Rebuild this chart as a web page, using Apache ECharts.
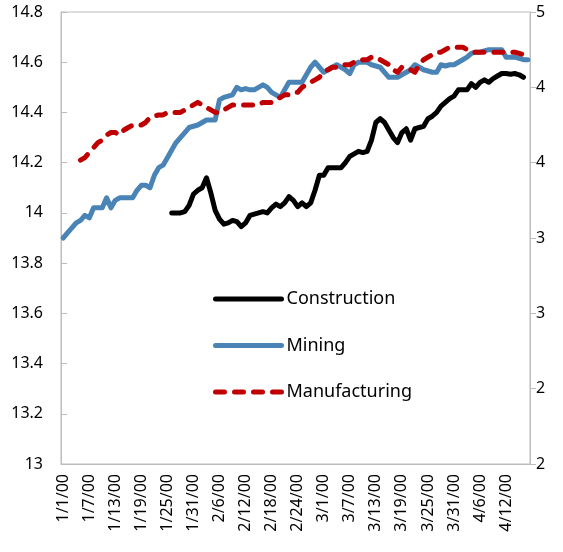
<!DOCTYPE html>
<html>
<head>
<meta charset="utf-8">
<script src="https://cdn.jsdelivr.net/npm/echarts@6/dist/echarts.min.js"></script>
<style>
  html, body { margin: 0; padding: 0; background: #fff; }
  #chart { width: 563px; height: 552px; }
</style>
</head>
<body>
<div id="chart"></div>
<script>
// daily dates 1/1/00 .. 4/17/00 (108 days)
const startDate = new Date(2000, 0, 1);
const dayCount = 108;
const dates = [];
for (let i = 0; i < dayCount; i++) {
  const d = new Date(startDate.getTime());
  d.setDate(startDate.getDate() + i);
  dates.push((d.getMonth() + 1) + '/' + d.getDate() + '/00');
}

// left axis ticks
const leftMin = 13, leftMax = 14.8, leftStep = 0.2;
// right axis tick labels, bottom to top
const rightTickLabels = ['2', '2', '3', '3', '4', '4', '5'];

const construction = [
  null, null, null, null, null, null, null, null, null, null,
  null, null, null, null, null, null, null, null, null, null,
  null, null, null, null, null,
  14.00, 14.00, 14.00, 14.005, 14.03, 14.075, 14.09, 14.10, 14.14, 14.08,
  14.01, 13.975, 13.955, 13.96, 13.97, 13.965, 13.945, 13.96, 13.99, 13.995,
  14.00, 14.005, 14.00, 14.02, 14.035, 14.025, 14.04, 14.065, 14.05, 14.025,
  14.04, 14.025, 14.04, 14.09, 14.15, 14.15, 14.18, 14.18, 14.18, 14.18,
  14.20, 14.225, 14.235, 14.245, 14.24, 14.245, 14.29, 14.36, 14.375, 14.36,
  14.33, 14.30, 14.28, 14.32, 14.335, 14.29, 14.335, 14.34, 14.345, 14.375,
  14.385, 14.40, 14.425, 14.44, 14.455, 14.465, 14.49, 14.49, 14.49, 14.515,
  14.50, 14.52, 14.53, 14.52, 14.535, 14.545, 14.555, 14.555, 14.552, 14.555,
  14.55, 14.54, null
];

const mining = [
  13.90, 13.92, 13.94, 13.96, 13.97, 13.99, 13.98, 14.02, 14.02, 14.02,
  14.06, 14.02, 14.05, 14.06, 14.06, 14.06, 14.06, 14.09, 14.11, 14.11,
  14.10, 14.15, 14.18, 14.19, 14.22, 14.25, 14.28, 14.30, 14.32, 14.34,
  14.345, 14.35, 14.36, 14.37, 14.37, 14.37, 14.45, 14.46, 14.465, 14.47,
  14.50, 14.49, 14.495, 14.49, 14.49, 14.50, 14.51, 14.50, 14.48, 14.47,
  14.46, 14.49, 14.52, 14.52, 14.52, 14.52, 14.55, 14.58, 14.60, 14.58,
  14.56, 14.57, 14.58, 14.59, 14.58, 14.57, 14.555, 14.59, 14.60, 14.60,
  14.60, 14.59, 14.585, 14.58, 14.56, 14.54, 14.54, 14.54, 14.55, 14.56,
  14.57, 14.59, 14.58, 14.57, 14.565, 14.56, 14.56, 14.59, 14.585, 14.59,
  14.59, 14.60, 14.61, 14.62, 14.635, 14.64, 14.64, 14.645, 14.65, 14.65,
  14.65, 14.65, 14.62, 14.62, 14.62, 14.615, 14.61, 14.61
];

const manufacturing = [
  null, null, null, null, 14.21, 14.22, 14.24, 14.26, 14.28, 14.29,
  14.31, 14.32, 14.32, 14.31, 14.33, 14.34, 14.35, 14.35, 14.35, 14.36,
  14.38, 14.385, 14.39, 14.39, 14.40, 14.40, 14.40, 14.40, 14.41, 14.42,
  14.43, 14.44, 14.43, 14.42, 14.41, 14.40, 14.40, 14.41, 14.42, 14.43,
  14.43, 14.43, 14.43, 14.43, 14.43, 14.43, 14.44, 14.44, 14.44, 14.45,
  14.46, 14.47, 14.47, 14.48, 14.48, 14.50, 14.51, 14.52, 14.53, 14.54,
  14.56, 14.57, 14.58, 14.58, 14.59, 14.59, 14.59, 14.60, 14.60, 14.61,
  14.61, 14.62, 14.62, 14.61, 14.60, 14.59, 14.57, 14.56, 14.58, 14.58,
  14.57, 14.56, 14.59, 14.61, 14.62, 14.63, 14.64, 14.64, 14.65, 14.66,
  14.66, 14.66, 14.66, 14.65, 14.64, 14.64, 14.64, 14.64, 14.64, 14.64,
  14.64, 14.64, 14.64, 14.64, 14.64, 14.635, 14.63, 14.61
];

const axisGray = '#bcbcbc';
const font = 'Noto Sans';

const chart = echarts.init(document.getElementById('chart'), null, { renderer: 'canvas' });

chart.setOption({
  backgroundColor: '#fff',
  animation: false,
  grid: {
    left: 61, right: 33, top: 12, bottom: 88,
    show: true, borderColor: axisGray, borderWidth: 1
  },
  legend: {
    orient: 'vertical',
    left: 208,
    top: 285,
    itemWidth: 66,
    itemHeight: 14,
    itemGap: 28.5,
    itemStyle: { opacity: 0 },
    lineStyle: { width: 5, cap: 'round' },
    textStyle: { color: '#000', fontSize: 18, fontFamily: font },
    data: ['Construction', 'Mining', 'Manufacturing']
  },
  xAxis: {
    type: 'category',
    data: dates,
    boundaryGap: true,
    axisLine: { lineStyle: { color: axisGray } },
    axisTick: { inside: true, length: 6, interval: 5, lineStyle: { color: axisGray } },
    axisLabel: {
      interval: 5, rotate: 90, margin: 10,
      color: '#000', fontSize: 16, fontFamily: font
    },
    splitLine: { show: false }
  },
  yAxis: [
    {
      type: 'value',
      min: leftMin, max: leftMax, interval: leftStep,
      axisLine: { show: true, lineStyle: { color: axisGray } },
      axisTick: { show: true, inside: true, length: 6, lineStyle: { color: axisGray } },
      axisLabel: {
        color: '#000', fontSize: 16, fontFamily: font, margin: 18,
        formatter: v => String(+v.toFixed(1))
      },
      splitLine: { show: false }
    },
    {
      type: 'value',
      position: 'right',
      min: 2, max: 5, interval: 0.5,
      axisLine: { show: true, lineStyle: { color: axisGray } },
      axisTick: { show: true, length: 6, lineStyle: { color: axisGray } },
      axisLabel: {
        color: '#000', fontSize: 16, fontFamily: font, margin: 6,
        formatter: v => rightTickLabels[Math.round((v - 2) / 0.5)]
      },
      splitLine: { show: false }
    }
  ],
  series: [
    {
      name: 'Construction', type: 'line', data: construction,
      symbol: 'none', connectNulls: false,
      itemStyle: { color: '#000' },
      lineStyle: { color: '#000', width: 5, cap: 'round', join: 'round' }
    },
    {
      name: 'Mining', type: 'line', data: mining,
      symbol: 'none',
      itemStyle: { color: '#4a84b6' },
      lineStyle: { color: '#4a84b6', width: 5, cap: 'round', join: 'round' }
    },
    {
      name: 'Manufacturing', type: 'line', data: manufacturing,
      symbol: 'none',
      itemStyle: { color: '#c00000' },
      lineStyle: { color: '#c00000', width: 5, type: [9, 10], cap: 'round', join: 'round' }
    }
  ]
});
</script>
</body>
</html>
